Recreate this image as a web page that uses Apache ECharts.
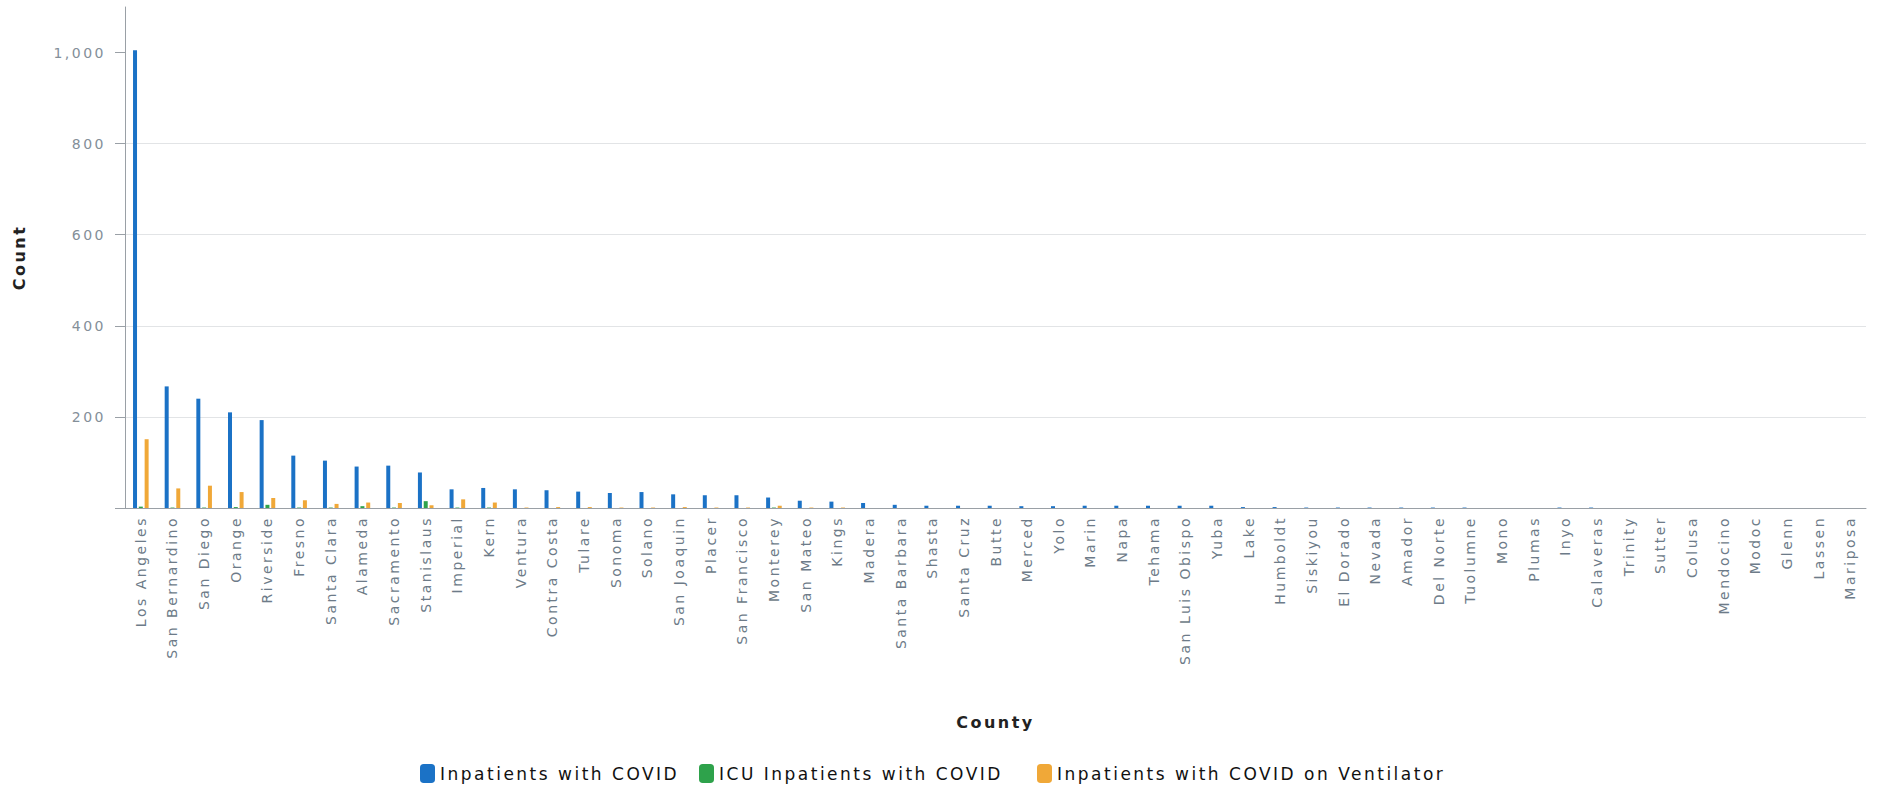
<!DOCTYPE html>
<html>
<head>
<meta charset="utf-8">
<script src="https://cdn.jsdelivr.net/npm/echarts@6/dist/echarts.min.js"></script>
<style>
  html, body { margin: 0; padding: 0; background: #ffffff; }
  #chart { width: 1881px; height: 791px; }
  #chart svg text { letter-spacing: 2.5px; }
</style>
</head>
<body>
<div id="chart"></div>
<script>
const counties = ["Los Angeles","San Bernardino","San Diego","Orange","Riverside","Fresno","Santa Clara","Alameda","Sacramento","Stanislaus","Imperial","Kern","Ventura","Contra Costa","Tulare","Sonoma","Solano","San Joaquin","Placer","San Francisco","Monterey","San Mateo","Kings","Madera","Santa Barbara","Shasta","Santa Cruz","Butte","Merced","Yolo","Marin","Napa","Tehama","San Luis Obispo","Yuba","Lake","Humboldt","Siskiyou","El Dorado","Nevada","Amador","Del Norte","Tuolumne","Mono","Plumas","Inyo","Calaveras","Trinity","Sutter","Colusa","Mendocino","Modoc","Glenn","Lassen","Mariposa"];
const inpatients = [1005,267,240,210,193,115,104,91,93,78,41,44,41,39,36,33,35,30,28,28,23,16,14,11,7,5,5,5,4,4,5,5,5,5,5,2,2,1,1,1,1,1,1,0,0,1,1,0,0,0,0,0,0,0,0];
const icu = [3,1,1,2,7,1,1,4,1,15,1,1,0,0,0,0,0,0,0,0,1,0,0,0,0,0,0,0,0,0,0,0,0,0,0,0,0,0,0,0,0,0,0,0,0,0,0,0,0,0,0,0,0,0,0];
const ventilator = [151,43,49,35,22,17,9,12,11,6,19,12,1,2,2,1,1,2,1,1,5,1,1,0,0,0,0,0,0,0,0,0,0,0,0,0,0,0,0,0,0,0,0,0,0,0,0,0,0,0,0,0,0,0,0];
const yLabelValues = [200,400,600,800,1000];
const yTickValues = [0,200,400,600,800,1000];
const seriesNames = ["Inpatients with COVID","ICU Inpatients with COVID","Inpatients with COVID on Ventilator"];
const colors = ["#1b72c6","#2ea24b","#f0a838"];

const chart = echarts.init(document.getElementById('chart'), null, {renderer: 'svg'});
const font = 'DejaVu Sans';
function legendAt(name, left) {
  return {
    data: [name], left: left, top: 759, orient: 'horizontal',
    icon: 'roundRect', itemWidth: 15, itemHeight: 19,
    textStyle: {fontFamily: font, fontSize: 17, color: '#111'},
    selectedMode: false
  };
}
chart.setOption({
  animation: false,
  backgroundColor: '#ffffff',
  color: colors,
  grid: {left: 125, right: 15, top: 7, bottom: 283},
  legend: [legendAt(seriesNames[0], 415), legendAt(seriesNames[1], 694), legendAt(seriesNames[2], 1032)],
  xAxis: {
    type: 'category',
    data: counties,
    name: 'County',
    nameLocation: 'middle',
    nameGap: 206,
    nameTextStyle: {fontFamily: font, fontSize: 16, fontWeight: 'bold', color: '#222'},
    axisLine: {lineStyle: {color: '#9aa0a6', width: 1}},
    axisTick: {alignWithLabel: true, length: 6, lineStyle: {color: '#9aa0a6'}},
    axisLabel: {interval: 0, rotate: 90, margin: 8, fontFamily: font, fontSize: 14, color: '#6d7b88'}
  },
  yAxis: {
    type: 'value',
    min: 0, max: 1100,
    name: 'Count',
    nameLocation: 'middle',
    nameGap: 98,
    nameTextStyle: {fontFamily: font, fontSize: 16, fontWeight: 'bold', color: '#222'},
    axisLine: {show: true, lineStyle: {color: '#9aa0a6', width: 1}},
    axisTick: {show: true, length: 10, customValues: yTickValues, lineStyle: {color: '#9aa0a6'}},
    axisLabel: {customValues: yLabelValues, margin: 19, fontFamily: font, fontSize: 14, color: '#848f99',
      formatter: v => v.toLocaleString('en-US')},
    splitLine: {show: true, showMinLine: false, showMaxLine: false, lineStyle: {color: '#e2e4e6', width: 1}}
  },
  series: [
    {name: seriesNames[0], type: 'bar', data: inpatients, barWidth: 4, barGap: '45%'},
    {name: seriesNames[1], type: 'bar', data: icu, barWidth: 4, barGap: '45%'},
    {name: seriesNames[2], type: 'bar', data: ventilator, barWidth: 4, barGap: '45%'}
  ]
});
</script>
</body>
</html>
